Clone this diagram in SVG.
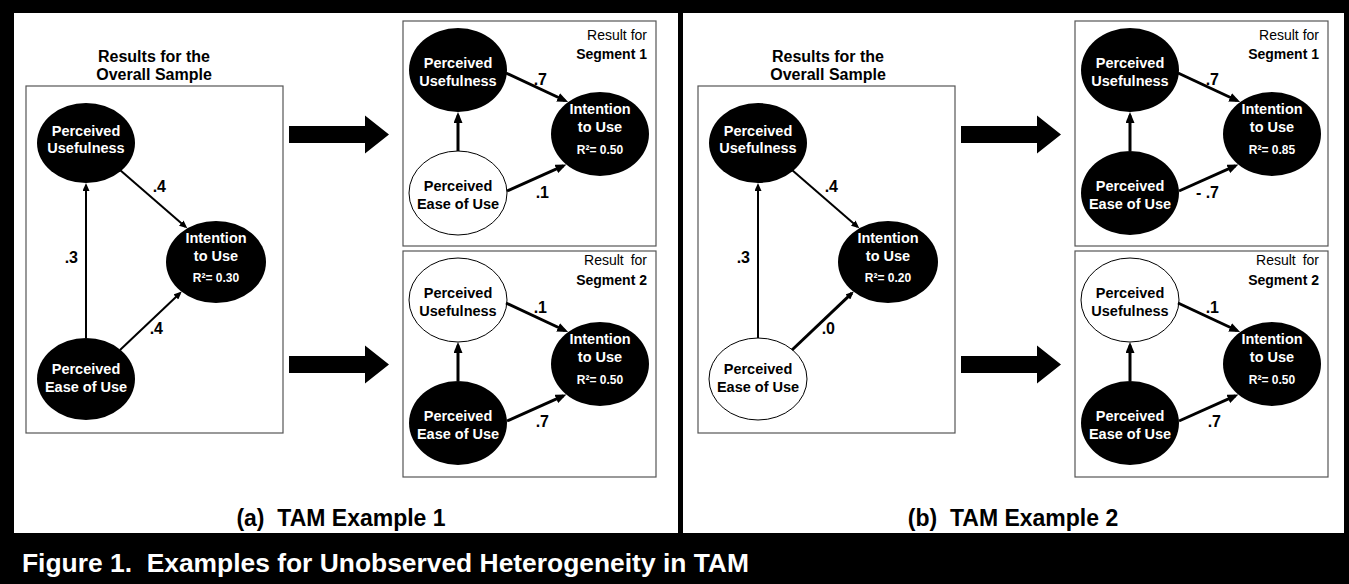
<svg xmlns="http://www.w3.org/2000/svg" width="1349" height="584" viewBox="0 0 1349 584">
<defs>
<style>
text{font-family:"Liberation Sans",Arial,Helvetica,sans-serif;}
.box{fill:#fff;stroke:#555;stroke-width:1.2}
.nb{fill:#000}
.nw{fill:#fff;stroke:#000;stroke-width:1}
.t{font-size:14.5px;font-weight:bold;text-anchor:middle}
.w{fill:#fff}
.k{fill:#000}
.r2{font-size:12px;font-weight:bold;text-anchor:middle;fill:#fff}
.lb{font-size:16px;font-weight:bold;text-anchor:end;fill:#000}
.ttl{font-size:16px;font-weight:bold;text-anchor:middle;fill:#000}
.res{font-size:14px;text-anchor:end;fill:#000}
.seg{font-size:14px;font-weight:bold;text-anchor:end;fill:#000}
.c1{stroke:#000;stroke-width:2;fill:none;marker-end:url(#a1)}
.c1b{stroke:#000;stroke-width:3;fill:none;marker-end:url(#a1)}
.c2{stroke:#000;stroke-width:3;fill:none;marker-end:url(#a2)}
.cap{font-size:26.4px;font-weight:bold;fill:#fff;white-space:pre}
.pl{font-size:23px;font-weight:bold;fill:#000;text-anchor:middle;white-space:pre}
</style>
<marker id="a1" markerUnits="userSpaceOnUse" markerWidth="8" markerHeight="7" viewBox="0 0 8 7" refX="5.5" refY="3.5" orient="auto"><path d="M0,0 L8,3.5 L0,7 z" fill="#000"/></marker>
<marker id="a2" markerUnits="userSpaceOnUse" markerWidth="11" markerHeight="9" viewBox="0 0 11 9" refX="7.5" refY="4.5" orient="auto"><path d="M0,0 L11,4.5 L0,9 z" fill="#000"/></marker>
<path id="bigarrow" d="M0,-8.5 H76 V-19 L100,0 L76,19 V8.5 H0 z" fill="#000"/>
</defs>

<!-- frame -->
<rect x="0" y="0" width="1349" height="584" fill="#000"/>
<rect x="14" y="13" width="664" height="520" fill="#fff"/>
<rect x="683" y="13" width="661" height="520" fill="#fff"/>
<text class="cap" x="22" y="572">Figure 1.  Examples for Unobserved Heterogeneity in TAM</text>

<!-- ===== Panel (a) ===== -->
<g id="panel-a">
  <g id="a-overall">
    <rect class="box" x="26" y="86" width="257" height="347"/>
    <text class="ttl" x="154" y="62">Results for the</text>
    <text class="ttl" x="154" y="80">Overall Sample</text>
    <g id="a-pu"><ellipse class="nb" cx="86" cy="143" rx="49" ry="40"/><text class="t w" x="86" y="136">Perceived</text><text class="t w" x="86" y="153">Usefulness</text></g>
    <g id="a-itu"><ellipse class="nb" cx="216" cy="262" rx="50" ry="41"/><text class="t w" x="216" y="243">Intention</text><text class="t w" x="216" y="261">to Use</text><text class="r2" x="216" y="282">R²= 0.30</text></g>
    <g id="a-peou"><ellipse class="nb" cx="86" cy="379" rx="49" ry="41"/><text class="t w" x="86" y="374">Perceived</text><text class="t w" x="86" y="392">Ease of Use</text></g>
    <g id="a-overall-connectors">
      <path class="c1" d="M86,338 V185.5"/>
      <path class="c1" d="M120,170 L185.4,226.7"/>
      <path class="c1" d="M120,350 L179.9,293.2"/>
      <text class="lb" x="166" y="192">.4</text>
      <text class="lb" x="78" y="263">.3</text>
      <text class="lb" x="163" y="334">.4</text>
    </g>
  </g>
  <g id="a-big-arrows">
    <use href="#bigarrow" x="289" y="134.5"/>
    <use href="#bigarrow" x="289" y="364.5"/>
  </g>
  <g id="a-seg1" transform="translate(403,21)">
    <rect class="box" x="0" y="0" width="253" height="225"/>
    <text class="res" x="244" y="19">Result for</text>
    <text class="seg" x="244" y="38">Segment 1</text>
    <g id="a1-pu"><ellipse class="nb" cx="55" cy="49" rx="49" ry="42"/><text class="t w" x="55" y="47">Perceived</text><text class="t w" x="55" y="65">Usefulness</text></g>
    <g id="a1-peou"><ellipse class="nw" cx="55" cy="172" rx="49" ry="42"/><text class="t k" x="55" y="170">Perceived</text><text class="t k" x="55" y="188">Ease of Use</text></g>
    <g id="a1-itu"><ellipse class="nb" cx="197" cy="113" rx="49" ry="42"/><text class="t w" x="197" y="93">Intention</text><text class="t w" x="197" y="111">to Use</text><text class="r2" x="197" y="133">R²= 0.50</text></g>
    <g id="a1-connectors">
      <path class="c2" d="M55,130 V94.5"/>
      <path class="c2" d="M103,52 L161.9,79.5"/>
      <path class="c2" d="M104,170 L160.2,144.9"/>
      <text class="lb" x="144" y="64">.7</text>
      <text class="lb" x="146" y="177">.1</text>
    </g>
  </g>
  <g id="a-seg2" transform="translate(403,251)">
    <rect class="box" x="0" y="0" width="253" height="226"/>
    <text class="res" x="244" y="14" style="word-spacing:3px">Result for</text>
    <text class="seg" x="244" y="34">Segment 2</text>
    <g id="a2-pu"><ellipse class="nw" cx="55" cy="49" rx="49" ry="42"/><text class="t k" x="55" y="47">Perceived</text><text class="t k" x="55" y="65">Usefulness</text></g>
    <g id="a2-peou"><ellipse class="nb" cx="55" cy="172" rx="49" ry="42"/><text class="t w" x="55" y="170">Perceived</text><text class="t w" x="55" y="188">Ease of Use</text></g>
    <g id="a2-itu"><ellipse class="nb" cx="197" cy="113" rx="49" ry="42"/><text class="t w" x="197" y="93">Intention</text><text class="t w" x="197" y="111">to Use</text><text class="r2" x="197" y="133">R²= 0.50</text></g>
    <g id="a2-connectors">
      <path class="c2" d="M55,130 V94.5"/>
      <path class="c2" d="M103,52 L161.9,79.5"/>
      <path class="c2" d="M104,170 L160.2,144.9"/>
      <text class="lb" x="144" y="62">.1</text>
      <text class="lb" x="146" y="176">.7</text>
    </g>
  </g>
  <text class="pl" x="341" y="526">(a)  TAM Example 1</text>
</g>

<!-- divider -->
<rect x="678" y="13" width="5" height="520" fill="#000"/>

<!-- ===== Panel (b) ===== -->
<g id="panel-b" transform="translate(672,0)">
  <g id="b-overall">
    <rect class="box" x="26" y="86" width="257" height="347"/>
    <text class="ttl" x="156" y="62">Results for the</text>
    <text class="ttl" x="156" y="80">Overall Sample</text>
    <g id="b-pu"><ellipse class="nb" cx="86" cy="143" rx="49" ry="40"/><text class="t w" x="86" y="136">Perceived</text><text class="t w" x="86" y="153">Usefulness</text></g>
    <g id="b-itu"><ellipse class="nb" cx="216" cy="262" rx="50" ry="41"/><text class="t w" x="216" y="243">Intention</text><text class="t w" x="216" y="261">to Use</text><text class="r2" x="216" y="282">R²= 0.20</text></g>
    <g id="b-peou"><ellipse class="nw" cx="86" cy="379" rx="49" ry="41"/><text class="t k" x="86" y="374">Perceived</text><text class="t k" x="86" y="392">Ease of Use</text></g>
    <g id="b-overall-connectors">
      <path class="c1" d="M86,338 V185.5"/>
      <path class="c1" d="M120,170 L185.4,226.7"/>
      <path class="c1b" d="M120,350 L179.9,293.2"/>
      <text class="lb" x="166" y="192">.4</text>
      <text class="lb" x="78" y="263">.3</text>
      <text class="lb" x="163" y="334">.0</text>
    </g>
  </g>
  <g id="b-big-arrows">
    <use href="#bigarrow" x="289" y="134.5"/>
    <use href="#bigarrow" x="289" y="364.5"/>
  </g>
  <g id="b-seg1" transform="translate(403,21)">
    <rect class="box" x="0" y="0" width="253" height="225"/>
    <text class="res" x="244" y="19">Result for</text>
    <text class="seg" x="244" y="38">Segment 1</text>
    <g id="b1-pu"><ellipse class="nb" cx="55" cy="49" rx="49" ry="42"/><text class="t w" x="55" y="47">Perceived</text><text class="t w" x="55" y="65">Usefulness</text></g>
    <g id="b1-peou"><ellipse class="nb" cx="55" cy="172" rx="49" ry="42"/><text class="t w" x="55" y="170">Perceived</text><text class="t w" x="55" y="188">Ease of Use</text></g>
    <g id="b1-itu"><ellipse class="nb" cx="197" cy="113" rx="49" ry="42"/><text class="t w" x="197" y="93">Intention</text><text class="t w" x="197" y="111">to Use</text><text class="r2" x="197" y="133">R²= 0.85</text></g>
    <g id="b1-connectors">
      <path class="c2" d="M55,130 V94.5"/>
      <path class="c2" d="M103,52 L161.9,79.5"/>
      <path class="c2" d="M104,170 L160.2,144.9"/>
      <text class="lb" x="144" y="64">.7</text>
      <text class="lb" x="144" y="177">- .7</text>
    </g>
  </g>
  <g id="b-seg2" transform="translate(403,251)">
    <rect class="box" x="0" y="0" width="253" height="226"/>
    <text class="res" x="244" y="14" style="word-spacing:3px">Result for</text>
    <text class="seg" x="244" y="34">Segment 2</text>
    <g id="b2-pu"><ellipse class="nw" cx="55" cy="49" rx="49" ry="42"/><text class="t k" x="55" y="47">Perceived</text><text class="t k" x="55" y="65">Usefulness</text></g>
    <g id="b2-peou"><ellipse class="nb" cx="55" cy="172" rx="49" ry="42"/><text class="t w" x="55" y="170">Perceived</text><text class="t w" x="55" y="188">Ease of Use</text></g>
    <g id="b2-itu"><ellipse class="nb" cx="197" cy="113" rx="49" ry="42"/><text class="t w" x="197" y="93">Intention</text><text class="t w" x="197" y="111">to Use</text><text class="r2" x="197" y="133">R²= 0.50</text></g>
    <g id="b2-connectors">
      <path class="c2" d="M55,130 V94.5"/>
      <path class="c2" d="M103,52 L161.9,79.5"/>
      <path class="c2" d="M104,170 L160.2,144.9"/>
      <text class="lb" x="144" y="62">.1</text>
      <text class="lb" x="146" y="176">.7</text>
    </g>
  </g>
  <text class="pl" x="341" y="526">(b)  TAM Example 2</text>
</g>
</svg>
